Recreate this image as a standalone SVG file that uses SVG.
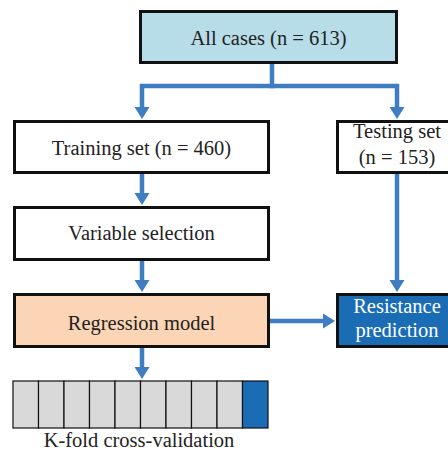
<svg xmlns="http://www.w3.org/2000/svg" width="448" height="452" viewBox="0 0 448 452">
<style>
.box{stroke:#111;stroke-width:3}
text{font-family:'Liberation Serif','DejaVu Serif','Times New Roman',serif;font-size:20.5px;fill:#222;text-anchor:middle}
text.w{fill:#fff}
.c{fill:none;stroke:#3f7dc3;stroke-width:4.5;stroke-linejoin:miter}
.cell{fill:#d9d9d9;stroke:#111;stroke-width:1.2}
.cell.last{fill:#1a6db5}
</style>
<defs>
<marker id="ah" markerUnits="userSpaceOnUse" markerWidth="16" markerHeight="18" viewBox="-2 -9 16 18" refX="2" refY="0" orient="auto">
<path d="M0,-7.5 L12,0 L0,7.5 z" fill="#3f7dc3"/>
</marker>
</defs>
<rect width="448" height="452" fill="#fff"/>
<g id="connectors">
<path class="c" d="M272,63 V86"/>
<path class="c" d="M274,86 H142 V109" marker-end="url(#ah)"/>
<path class="c" d="M270,86 H397 V109" marker-end="url(#ah)"/>
<path class="c" d="M142,173 V195" marker-end="url(#ah)"/>
<path class="c" d="M142,260 V282" marker-end="url(#ah)"/>
<path class="c" d="M142,347 V369" marker-end="url(#ah)"/>
<path class="c" d="M269,321 H325" marker-end="url(#ah)"/>
<path class="c" d="M397,173 V282" marker-end="url(#ah)"/>
</g>
<g id="all-cases">
<rect class="box" x="140.5" y="11.5" width="256" height="51" fill="#b7dde8" stroke-width="3.5"/>
<text x="268.5" y="45">All cases (n = 613)</text>
</g>
<g id="training-set">
<rect class="box" x="14.5" y="121.5" width="254" height="51" fill="#fff"/>
<text x="141.5" y="155">Training set (n = 460)</text>
</g>
<g id="testing-set">
<rect class="box" x="337.5" y="121.5" width="120" height="51" fill="#fff"/>
<text x="397" y="138">Testing set</text>
<text x="397" y="164">(n = 153)</text>
</g>
<g id="variable-selection">
<rect class="box" x="14.5" y="207.5" width="254" height="52" fill="#fff"/>
<text x="141.5" y="240">Variable selection</text>
</g>
<g id="regression-model">
<rect class="box" x="14.5" y="294.5" width="254" height="52" fill="#fbd5b5"/>
<text x="141.5" y="330">Regression model</text>
</g>
<g id="resistance-prediction">
<rect class="box" x="337.5" y="294.5" width="120" height="52" fill="#1a6db5"/>
<text class="w" x="397" y="313">Resistance</text>
<text class="w" x="397" y="337">prediction</text>
</g>
<g id="k-fold">
<rect class="cell" x="13" y="381" width="25.5" height="47"/>
<rect class="cell" x="38.5" y="381" width="25.5" height="47"/>
<rect class="cell" x="64" y="381" width="25.5" height="47"/>
<rect class="cell" x="89.5" y="381" width="25.5" height="47"/>
<rect class="cell" x="115" y="381" width="25.5" height="47"/>
<rect class="cell" x="140.5" y="381" width="25.5" height="47"/>
<rect class="cell" x="166" y="381" width="25.5" height="47"/>
<rect class="cell" x="191.5" y="381" width="25.5" height="47"/>
<rect class="cell" x="217" y="381" width="25.5" height="47"/>
<rect class="cell last" x="242.5" y="381" width="25.5" height="47"/>
<text x="139" y="447">K-fold cross-validation</text>
</g>
</svg>
